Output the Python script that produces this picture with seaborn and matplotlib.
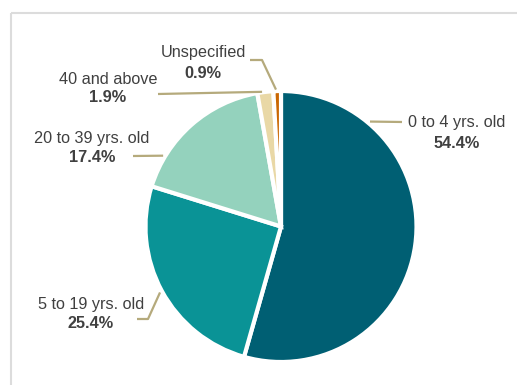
import numpy as np
import matplotlib.pyplot as plt
import seaborn as sns
from matplotlib.patches import Rectangle

# data
groups = ['0 to 4 yrs. old', '5 to 19 yrs. old', '20 to 39 yrs. old', '40 and above', 'Unspecified']
shares = [54.4, 25.4, 17.4, 1.9, 0.9]
colors = ['#005f73', '#0a9396', '#94d2bd', '#e9d8a6', '#ca6702']

sns.set_theme(style='white')
plt.rcParams['font.family'] = ['Liberation Sans', 'DejaVu Sans']

W, H = 517, 385
fig = plt.figure(figsize=(W / 100, H / 100), dpi=100)
ax = fig.add_axes([0, 0, 1, 1])

# pie in pixel-like coords (y runs downward), starts at 12 o'clock, goes clockwise
cx, cy, r = 281, 226.5, 135.5
ax.pie(shares, colors=colors, startangle=-90, counterclock=True,
       center=(cx, cy), radius=r,
       wedgeprops=dict(edgecolor='white', linewidth=3))
ax.set_xlim(0, W)
ax.set_ylim(H, 0)
ax.set_aspect('equal')
ax.axis('off')

# label layout: leader tip angle (deg clockwise from top), tip radius,
# extra leader points, text centre x, name y, percent y
layout = [
    (40.3, 137.6, [(402, 122)], 457, 123, 143),
    (241.4, 137.8, [(148, 319), (137, 319)], 91, 304, 323),
    (301.0, 137.5, [(133, 156)], 92, 138, 157),
    (352.0, 136.0, [(158, 94)], 108, 80, 98),
    (357.9, 137.0, [(262, 60), (250, 60)], 203, 53, 74),
]
line_col = '#b5aa7c'
text_col = '#404040'
for name, val, (ang, rr, pts, tx, ny, py) in zip(groups, shares, layout):
    a = np.deg2rad(ang)
    tip = (cx + rr * np.sin(a), cy - rr * np.cos(a))
    xs = [tip[0]] + [p[0] for p in pts]
    ys = [tip[1]] + [p[1] for p in pts]
    ax.plot(xs, ys, color=line_col, lw=1.6, solid_capstyle='butt')
    ax.text(tx, ny, name, ha='center', va='center', fontsize=11.7, color=text_col)
    ax.text(tx, py, f'{val:.1f}%', ha='center', va='center', fontsize=11.7,
            fontweight='bold', color=text_col)

# card border (runs off the right and bottom edges)
ax.add_patch(Rectangle((11, 13), 700, 500, fill=False, edgecolor='#dcdcdc',
                       lw=1.5, clip_on=False))

fig.savefig('out.png', dpi=100)
